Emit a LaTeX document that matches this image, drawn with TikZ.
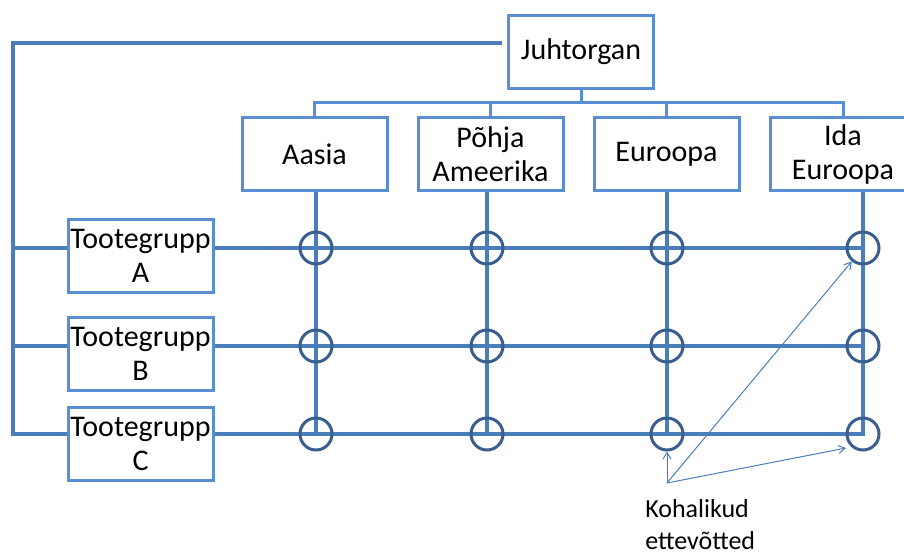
\documentclass[tikz,border=0pt]{standalone}
\usepackage{fontspec}
\setmainfont{Carlito}
\usetikzlibrary{arrows.meta}
\definecolor{lineblue}{HTML}{4A7EBB}
\definecolor{boxblue}{HTML}{5A8ED4}
\definecolor{ringblue}{HTML}{3A5F8E}
\begin{document}
\begin{tikzpicture}[x=0.75pt,y=-0.75pt,
  box/.style={draw=boxblue,line width=2.25pt,fill=white,minimum width=108.75pt,
    minimum height=54.75pt,inner sep=0pt,align=center,
    font=\fontsize{22.5}{25.5}\selectfont},
  mainline/.style={draw=lineblue,line width=3pt,line join=miter},
  busline/.style={draw=boxblue,line width=2.25pt,line join=miter},
  ring/.style={circle,draw=ringblue,line width=2.25pt,minimum size=24pt,inner sep=0pt},
  pointer/.style={draw=lineblue,line width=0.75pt,-{Straight Barb[length=5pt,width=6pt]}}]
\useasboundingbox (0,0) rectangle (904,554);
\clip (0,0) rectangle (904,554);

% top management and regional units
\node[box] (jt) at (581,52) {Juhtorgan};
\node[box] (aasia) at (314.5,154) {Aasia};
\node[box] (pohja) at (490.5,154) {Põhja\\Ameerika};
\node[box] (euro) at (666.5,154) {Euroopa};
\node[box] (ida) at (843,154) {Ida\\Euroopa};

% product groups
\node[box] (ta) at (140.5,255.5) {Tootegrupp\\A};
\node[box] (tb) at (140.5,354) {Tootegrupp\\B};
\node[box] (tc) at (140.5,443.5) {Tootegrupp\\C};

% matrix crossings (column, row)
\coordinate (c11) at (316,248); \coordinate (c12) at (316,346); \coordinate (c13) at (316,434);
\coordinate (c21) at (487,248); \coordinate (c22) at (487,346); \coordinate (c23) at (487,434);
\coordinate (c31) at (667,248); \coordinate (c32) at (667,346); \coordinate (c33) at (667,434);
\coordinate (c41) at (863,248); \coordinate (c42) at (863,346); \coordinate (c43) at (863,434);

% bus from management to regions
\coordinate (bus) at (581,102);
\draw[busline] (jt.south) -- (jt.south |- bus);
\draw[busline] (aasia.north) |- (bus) -| (ida.north);
\draw[busline] (pohja.north) -- (pohja.north |- bus);
\draw[busline] (euro.north) -- (euro.north |- bus);

% left spine from management to product groups
\coordinate (corner) at (13,43);
\draw[mainline] ([xshift=-3.75pt]jt.west |- corner) -- (corner) -- (corner |- c13) -- (tc.west |- c13);
\draw[mainline] (corner |- c11) -- (ta.west |- c11);
\draw[mainline] (corner |- c12) -- (tb.west |- c12);

% matrix grid
\draw[mainline] (c11 |- aasia.south) -- (c13);
\draw[mainline] (c21 |- pohja.south) -- (c23);
\draw[mainline] (c31 |- euro.south) -- (c33);
\draw[mainline] (ta.east |- c11) -- (c41);
\draw[mainline] (tb.east |- c12) -- (c42);
\draw[mainline] (tc.east |- c13) -- (c43) -- (c41 |- ida.south);

% rings at the crossings
\foreach \c in {11,12,13,21,22,23,31,32,33,41,42,43}
  \node[ring] (r\c) at (c\c) {};

% local companies
\node[anchor=base west,align=left,inner sep=0pt,
  font=\fontsize{19.5}{23.5}\selectfont] (klabel) at (645,549) {Kohalikud\\ettevõtted};
\coordinate (src) at (667,483);
\coordinate (tipC) at (846,448);
\draw[pointer] (src) -- (r33);
\draw[pointer] (src) -- (r41);
\draw[pointer] (src) -- (tipC);
\end{tikzpicture}
\end{document}
